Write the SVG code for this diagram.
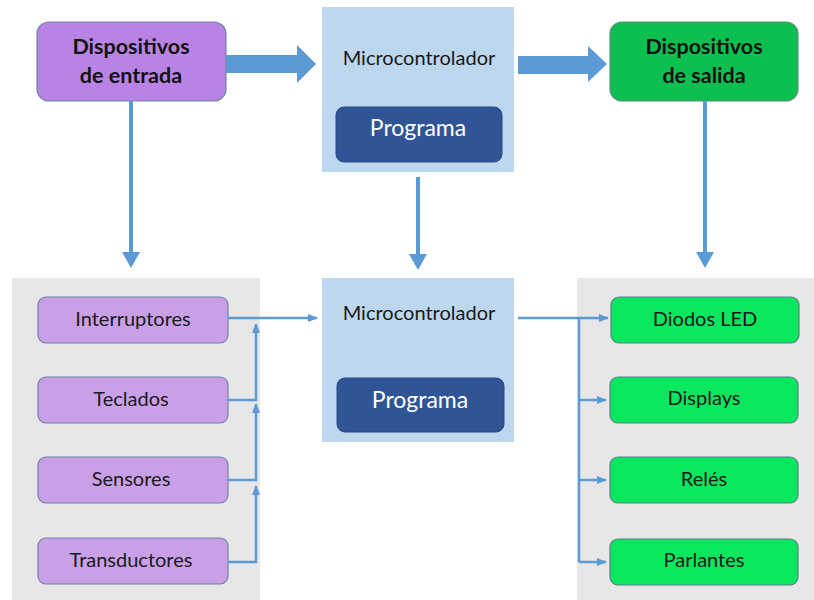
<svg xmlns="http://www.w3.org/2000/svg" width="814" height="600" viewBox="0 0 814 600">
<defs>
<style>
.panel{fill:#e7e7e7}
.mc{fill:#bdd7ee}
.prog{fill:#2f5597;stroke:#284b85;stroke-width:1}
.in{fill:#c9a0e8;stroke:#6a86a8;stroke-width:1.2}
.out{fill:#0be65f;stroke:#5b7f8f;stroke-width:1.2}
.inTop{fill:#b983e6;stroke:#6a86a8;stroke-width:1.2}
.outTop{fill:#0dbf4e;stroke:#5b8f7a;stroke-width:1.2}
.t{font-family:Lato,"Open Sans","Liberation Sans",sans-serif;font-size:20px;fill:#1a1a1a;text-anchor:middle}
.tb{font-family:"Lato","Liberation Sans",sans-serif;font-size:21.5px;font-weight:bold;fill:#111;text-anchor:middle}
.tw{font-family:Lato,"Open Sans","Liberation Sans",sans-serif;font-size:23px;fill:#ffffff;text-anchor:middle}
.ln{fill:none;stroke:#5b9bd5;stroke-width:2.5}
.thick{fill:none;stroke:#5b9bd5;stroke-width:4}
.big{fill:#5b9bd5}
</style>
<marker id="ah" markerWidth="10" markerHeight="10" refX="9" refY="5" orient="auto" markerUnits="userSpaceOnUse">
<path d="M0,1 L10,5 L0,9 Z" fill="#5b9bd5"/>
</marker>
</defs>

<rect class="panel" x="12" y="278" width="248" height="322"/>
<rect class="panel" x="577" y="278" width="237" height="322"/>

<g id="entrada">
<rect class="inTop" x="37" y="22" width="189" height="79" rx="12"/>
<text class="tb" x="131" y="54">Dispositivos</text>
<text class="tb" x="131" y="83">de entrada</text>
</g>

<g id="micro-top">
<rect class="mc" x="322" y="7" width="192" height="165"/>
<text class="t" x="419" y="65">Microcontrolador</text>
<rect class="prog" x="336" y="107" width="166" height="55" rx="8"/>
<text class="tw" x="418" y="136">Programa</text>
</g>

<g id="salida">
<rect class="outTop" x="610" y="22" width="188" height="79" rx="12"/>
<text class="tb" x="704" y="54">Dispositivos</text>
<text class="tb" x="704" y="83">de salida</text>
</g>

<g id="micro-bottom">
<rect class="mc" x="322" y="278" width="192" height="164"/>
<text class="t" x="419" y="320">Microcontrolador</text>
<rect class="prog" x="337" y="378" width="167" height="54" rx="8"/>
<text class="tw" x="420" y="408">Programa</text>
</g>

<g id="interruptores"><rect class="in" x="38" y="297" width="190" height="46" rx="8"/><text class="t" x="133" y="326">Interruptores</text></g>
<g id="teclados"><rect class="in" x="38" y="377" width="190" height="46" rx="8"/><text class="t" x="131" y="406">Teclados</text></g>
<g id="sensores"><rect class="in" x="38" y="457" width="190" height="46" rx="8"/><text class="t" x="131" y="486">Sensores</text></g>
<g id="transductores"><rect class="in" x="38" y="538" width="190" height="46" rx="8"/><text class="t" x="131" y="567">Transductores</text></g>

<g id="diodos"><rect class="out" x="611" y="297" width="188" height="46" rx="8"/><text class="t" x="705" y="326">Diodos LED</text></g>
<g id="displays"><rect class="out" x="610" y="377" width="188" height="46" rx="8"/><text class="t" x="704" y="405">Displays</text></g>
<g id="reles"><rect class="out" x="610" y="457" width="188" height="46" rx="8"/><text class="t" x="704" y="486">Relés</text></g>
<g id="parlantes"><rect class="out" x="610" y="539" width="188" height="46" rx="8"/><text class="t" x="704" y="567">Parlantes</text></g>

<g id="connectors">
<path class="big" d="M226,55 L297,55 L297,45 L316,64 L297,83 L297,73 L226,73 Z"/>
<path class="big" d="M518,56 L588,56 L588,46 L607,64 L588,82 L588,74 L518,74 Z"/>
<path class="thick" d="M131,101 L131,252"/>
<path d="M122,252 L140,252 L131,268 Z" class="big"/>
<path class="thick" d="M418,177 L418,254"/>
<path d="M409,254 L427,254 L418,270 Z" class="big"/>
<path class="thick" d="M705,101 L705,252"/>
<path d="M696,252 L714,252 L705,268 Z" class="big"/>

<path class="ln" d="M228,318 L317,318" marker-end="url(#ah)"/>
<path class="ln" d="M228,400 L256,400 L256,324" marker-end="url(#ah)"/>
<path class="ln" d="M228,480 L256,480 L256,404" marker-end="url(#ah)"/>
<path class="ln" d="M228,562 L256,562 L256,486" marker-end="url(#ah)"/>

<path class="ln" d="M518,318 L608,318" marker-end="url(#ah)"/>
<path class="ln" d="M579,318 L579,562"/>
<path class="ln" d="M579,400 L606,400" marker-end="url(#ah)"/>
<path class="ln" d="M579,480 L606,480" marker-end="url(#ah)"/>
<path class="ln" d="M579,562 L606,562" marker-end="url(#ah)"/>
</g>
</svg>
